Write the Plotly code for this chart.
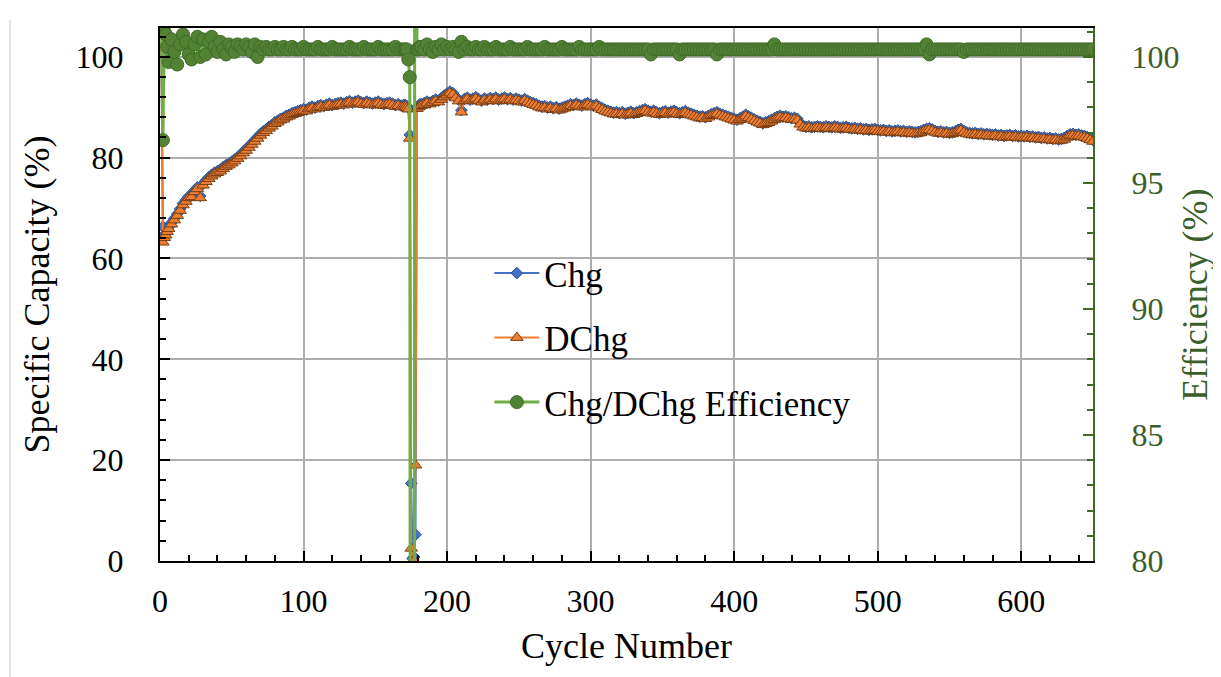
import plotly.graph_objects as go

# ---------------- DATA ----------------
# cycle numbers: 1..6, 8..170 step 2, 171..181, 182..650 step 2
cycles_a = [1, 2, 3, 4, 5, 6]
cycles_b = list(range(8, 171, 2))
cycles_c = list(range(171, 182))
cycles_d = list(range(182, 651, 2))

dchg_a = [101.8, 63.2, 64.1, 64.6, 65.3, 65.9]
chg_a = [100.4, 66.3, 64.5, 65.0, 65.6, 66.2]
eff_a = [101.5, 96.7, 101.0, 100.9, 100.4, 99.8]

dchg_b = [
    66.8, 67.6, 68.5, 69.5, 70.6, 71.3, 72.0, 72.2, 73.2, 73.8,
    72.0, 74.5, 75.2, 75.8, 76.3, 76.7, 77.0, 77.3, 77.8, 78.2,
    78.5, 78.9, 79.3, 79.8, 80.3, 80.9, 81.4, 82.0, 82.6, 83.2,
    83.8, 84.4, 84.9, 85.3, 85.8, 86.2, 86.7, 87.0, 87.4, 87.6,
    88.0, 88.2, 88.5, 88.7, 88.9, 89.1, 89.3, 89.2, 89.6, 89.8,
    89.6, 89.9, 90.1, 89.9, 90.2, 90.4, 90.1, 90.3, 90.5, 90.6,
    90.4, 90.7, 90.9, 90.6, 90.8, 91.0, 90.7, 90.5, 90.8, 90.6,
    90.4, 90.6, 90.8, 90.5, 90.3, 90.5, 90.6, 90.4, 90.1, 90.3,
    90.0, 90.2,
]
chg_b = [
    67.1, 67.9, 68.8, 69.8, 70.9, 71.6, 72.3, 72.5, 73.5, 74.1,
    72.4, 74.8, 75.5, 76.1, 76.6, 77.0, 77.3, 77.6, 78.1, 78.5,
    78.8, 79.2, 79.6, 80.1, 80.6, 81.2, 81.7, 82.3, 82.9, 83.5,
    84.1, 84.7, 85.2, 85.6, 86.1, 86.5, 87.0, 87.3, 87.7, 87.9,
    88.3, 88.5, 88.8, 89.0, 89.2, 89.4, 89.6, 89.5, 89.9, 90.1,
    89.9, 90.2, 90.4, 90.2, 90.5, 90.7, 90.4, 90.6, 90.8, 90.9,
    90.7, 91.0, 91.2, 90.9, 91.1, 91.3, 91.0, 90.8, 91.1, 90.9,
    90.7, 90.9, 91.1, 90.8, 90.6, 90.8, 90.9, 90.7, 90.4, 90.6,
    90.3, 90.5,
]
eff_b = [
    100.7, 100.2, 99.7, 100.5, 100.9, 100.6, 100.1, 99.9, 100.5, 100.8,
    100.0, 100.7, 100.1, 100.6, 100.8, 100.4, 100.2, 100.6, 100.3, 100.1,
    100.5, 100.4, 100.2, 100.5, 100.4, 100.3, 100.5, 100.4, 100.2, 100.5,
    100.0, 100.4, 100.3, 100.4, 100.3, 100.3, 100.4, 100.3, 100.3, 100.4,
    100.3, 100.3, 100.4, 100.3, 100.3, 100.3, 100.4, 100.3, 100.3, 100.3,
    100.3, 100.4, 100.3, 100.3, 100.3, 100.3, 100.4, 100.3, 100.3, 100.3,
    100.3, 100.3, 100.4, 100.3, 100.3, 100.3, 100.3, 100.4, 100.3, 100.3,
    100.3, 100.3, 100.4, 100.3, 100.3, 100.3, 100.3, 100.3, 100.4, 100.3,
    100.3, 100.3,
]

dchg_c = [90.1, 89.9, 89.6, 83.8, 2.5, 0.0, 0.0, 19.0, 89.7, 90.0, 90.2]
chg_c = [90.4, 90.2, 89.9, 84.5, 15.4, 0.5, 0.8, 5.2, 90.0, 90.3, 90.5]
eff_c = [100.3, 100.3, 99.9, 99.2, 20.0, 0.0, 0.0, 250.0, 100.3, 100.3, 100.4]

dchg_d = [
    90.3, 90.5, 90.8, 90.6, 90.9, 91.2, 91.0, 91.5, 92.0, 92.4,
    92.8, 92.5, 91.8, 91.2, 89.0, 91.3, 91.6, 91.2, 91.4, 91.7,
    91.3, 91.0, 91.4, 91.2, 91.5, 91.3, 91.6, 91.2, 91.4, 91.6,
    91.3, 91.5, 91.2, 91.4, 91.2, 91.0, 91.3, 91.0, 90.7, 90.5,
    90.3, 90.0, 89.8, 89.9, 89.6, 89.8, 89.5, 89.7, 89.4, 89.6,
    89.8, 90.0, 90.3, 90.1, 90.4, 90.2, 90.0, 90.3, 90.5, 90.2,
    90.0, 90.2, 89.8, 89.5, 89.2, 89.0, 88.8, 88.6, 88.7, 88.5,
    88.7, 88.4, 88.6, 88.8, 88.5, 88.7, 88.9, 89.1, 89.3, 89.0,
    88.8, 89.0, 88.7, 88.5, 88.7, 88.9, 88.6, 88.8, 89.0, 88.7,
    88.5, 88.7, 88.9, 88.6, 88.4, 88.2, 88.0, 87.8, 87.9, 87.7,
    88.0, 88.3, 88.5, 88.7, 88.4, 88.2, 88.0, 87.8, 87.6, 87.4,
    87.2, 87.5, 87.8, 88.2, 87.9, 87.6, 87.3, 87.0, 86.8, 86.5,
    86.7, 86.9, 87.2, 87.5, 87.8, 88.0, 87.8, 87.9, 87.7, 87.5,
    87.6, 87.4, 86.6, 86.0, 85.8, 85.9, 85.7, 85.8, 85.9, 85.8,
    85.7, 85.9, 85.8, 85.7, 85.9, 85.8, 85.6, 85.7, 85.8, 85.6,
    85.5, 85.6, 85.4, 85.5, 85.3, 85.4, 85.2, 85.3, 85.4, 85.2,
    85.1, 85.2, 85.0, 85.1, 84.9, 85.0, 85.1, 84.9, 85.0, 84.8,
    84.9, 84.8, 84.7, 84.8, 84.9, 85.2, 85.4, 85.5, 85.3, 85.0,
    84.8, 84.9, 84.7, 84.8, 84.6, 84.7, 84.9, 85.2, 85.4, 85.0,
    84.7, 84.6, 84.5, 84.6, 84.4, 84.5, 84.3, 84.4, 84.3, 84.2,
    84.3, 84.1, 84.2, 84.0, 84.1, 84.2, 84.0, 84.1, 83.9, 84.0,
    83.9, 84.0, 83.8, 83.9, 83.7, 83.8, 83.6, 83.7, 83.5, 83.6,
    83.4, 83.5, 83.3, 83.4, 83.6, 84.0, 84.3, 84.4, 84.2, 84.3,
    84.1, 84.0, 83.8, 83.5, 83.2,
]
chg_d = [
    90.6, 90.8, 91.1, 90.9, 91.2, 91.5, 91.3, 91.8, 92.3, 92.7,
    93.1, 92.8, 92.1, 91.5, 89.4, 91.6, 91.9, 91.5, 91.7, 92.0,
    91.6, 91.3, 91.7, 91.5, 91.8, 91.6, 91.9, 91.5, 91.7, 91.9,
    91.6, 91.8, 91.5, 91.7, 91.5, 91.3, 91.6, 91.3, 91.0, 90.8,
    90.6, 90.3, 90.1, 90.2, 89.9, 90.1, 89.8, 90.0, 89.7, 89.9,
    90.1, 90.3, 90.6, 90.4, 90.7, 90.5, 90.3, 90.6, 90.8, 90.5,
    90.3, 90.5, 90.1, 89.8, 89.5, 89.3, 89.1, 88.9, 89.0, 88.8,
    89.0, 88.7, 88.9, 89.1, 88.8, 89.0, 89.2, 89.4, 89.6, 89.3,
    89.1, 89.3, 89.0, 88.8, 89.0, 89.2, 88.9, 89.1, 89.3, 89.0,
    88.8, 89.0, 89.2, 88.9, 88.7, 88.5, 88.3, 88.1, 88.2, 88.0,
    88.3, 88.6, 88.8, 89.0, 88.7, 88.5, 88.3, 88.1, 87.9, 87.7,
    87.5, 87.8, 88.1, 88.5, 88.2, 87.9, 87.6, 87.3, 87.1, 86.8,
    87.0, 87.2, 87.5, 87.8, 88.1, 88.3, 88.1, 88.2, 88.0, 87.8,
    87.9, 87.7, 86.9, 86.3, 86.1, 86.2, 86.0, 86.1, 86.2, 86.1,
    86.0, 86.2, 86.1, 86.0, 86.2, 86.1, 85.9, 86.0, 86.1, 85.9,
    85.8, 85.9, 85.7, 85.8, 85.6, 85.7, 85.5, 85.6, 85.7, 85.5,
    85.4, 85.5, 85.3, 85.4, 85.2, 85.3, 85.4, 85.2, 85.3, 85.1,
    85.2, 85.1, 85.0, 85.1, 85.2, 85.5, 85.7, 85.8, 85.6, 85.3,
    85.1, 85.2, 85.0, 85.1, 84.9, 85.0, 85.2, 85.5, 85.7, 85.3,
    85.0, 84.9, 84.8, 84.9, 84.7, 84.8, 84.6, 84.7, 84.6, 84.5,
    84.6, 84.4, 84.5, 84.3, 84.4, 84.5, 84.3, 84.4, 84.2, 84.3,
    84.2, 84.3, 84.1, 84.2, 84.0, 84.1, 83.9, 84.0, 83.8, 83.9,
    83.7, 83.8, 83.6, 83.7, 83.9, 84.3, 84.6, 84.7, 84.5, 84.6,
    84.4, 84.3, 84.1, 83.8, 83.5,
]
eff_d = [
    100.4, 100.3, 100.5, 100.3, 100.2, 100.4, 100.3, 100.5, 100.3, 100.4,
    100.3, 100.4, 100.3, 100.2, 100.6, 100.3, 100.4, 100.3, 100.3, 100.4,
    100.3, 100.3, 100.4, 100.3, 100.3, 100.3, 100.4, 100.3, 100.3, 100.3,
    100.3, 100.4, 100.3, 100.3, 100.3, 100.3, 100.3, 100.4, 100.3, 100.3,
    100.3, 100.3, 100.3, 100.4, 100.3, 100.3, 100.3, 100.3, 100.3, 100.4,
    100.3, 100.3, 100.3, 100.3, 100.3, 100.4, 100.3, 100.3, 100.3, 100.3,
    100.3, 100.3, 100.4, 100.3, 100.3, 100.3, 100.3, 100.3, 100.3, 100.3,
    100.3, 100.3, 100.3, 100.3, 100.3, 100.3, 100.3, 100.3, 100.3, 100.3,
    100.1, 100.3, 100.3, 100.3, 100.3, 100.3, 100.3, 100.3, 100.3, 100.3,
    100.1, 100.3, 100.3, 100.3, 100.3, 100.3, 100.3, 100.3, 100.3, 100.3,
    100.3, 100.3, 100.3, 100.1, 100.3, 100.3, 100.3, 100.3, 100.3, 100.3,
    100.3, 100.3, 100.3, 100.3, 100.3, 100.3, 100.3, 100.3, 100.3, 100.3,
    100.3, 100.3, 100.3, 100.5, 100.3, 100.3, 100.3, 100.3, 100.3, 100.3,
    100.3, 100.3, 100.3, 100.3, 100.3, 100.3, 100.3, 100.3, 100.3, 100.3,
    100.3, 100.3, 100.3, 100.3, 100.3, 100.3, 100.3, 100.3, 100.3, 100.3,
    100.3, 100.3, 100.3, 100.3, 100.3, 100.3, 100.3, 100.3, 100.3, 100.3,
    100.3, 100.3, 100.3, 100.3, 100.3, 100.3, 100.3, 100.3, 100.3, 100.3,
    100.3, 100.3, 100.3, 100.3, 100.3, 100.3, 100.5, 100.1, 100.3, 100.3,
    100.3, 100.3, 100.3, 100.3, 100.3, 100.3, 100.3, 100.3, 100.3, 100.2,
    100.3, 100.3, 100.3, 100.3, 100.3, 100.3, 100.3, 100.3, 100.3, 100.3,
    100.3, 100.3, 100.3, 100.3, 100.3, 100.3, 100.3, 100.3, 100.3, 100.3,
    100.3, 100.3, 100.3, 100.3, 100.3, 100.3, 100.3, 100.3, 100.3, 100.3,
    100.3, 100.3, 100.3, 100.3, 100.3, 100.3, 100.3, 100.3, 100.3, 100.3,
    100.3, 100.3, 100.3, 100.3, 100.3,
]

cycles = cycles_a + cycles_b + cycles_c + cycles_d
chg = chg_a + chg_b + chg_c + chg_d
dchg = dchg_a + dchg_b + dchg_c + dchg_d
eff = eff_a + eff_b + eff_c + eff_d
assert len(cycles) == len(chg) == len(dchg) == len(eff), (len(cycles), len(chg), len(dchg), len(eff))

x_ticks = [0, 100, 200, 300, 400, 500, 600]
left_ticks = [0, 20, 40, 60, 80, 100]
right_ticks = [80, 85, 90, 95, 100]

# ---------------- STYLE ----------------
FONT = "Liberation Serif, Times New Roman, serif"
GREEN_TXT = "#3B5E2A"
GRID = "#ADADAD"

fig = go.Figure()
fig.add_trace(go.Scatter(
    x=cycles, y=chg, name="Chg", mode="lines+markers", legendgroup="a",
    line=dict(color="#4472C4", width=2),
    marker=dict(symbol="diamond", size=9, color="#4472C4",
                line=dict(color="#2F528F", width=1)),
))
fig.add_trace(go.Scatter(
    x=cycles, y=dchg, name="DChg", mode="lines+markers", legendgroup="b",
    line=dict(color="#ED7D31", width=2),
    marker=dict(symbol="triangle-up", size=11, color="#ED7D31",
                line=dict(color="#7A3E14", width=1)),
))
fig.add_trace(go.Scatter(
    x=cycles, y=eff, name="Chg/DChg Efficiency", mode="lines+markers",
    legendgroup="c", yaxis="y2",
    line=dict(color="#70AD47", width=3),
    marker=dict(symbol="circle", size=13, color="#548235",
                line=dict(color="#3E6B27", width=1)),
))

fig.update_layout(
    width=1221, height=677,
    margin=dict(l=152, r=136, t=20, b=124, autoexpand=False),
    paper_bgcolor="white", plot_bgcolor="white",
    font=dict(family=FONT, size=32, color="black"),
    showlegend=True,
    legend=dict(x=0.353, y=0.595, xanchor="left", yanchor="top",
                bgcolor="rgba(0,0,0,0)", font=dict(family=FONT, size=35),
                itemwidth=45, tracegroupgap=16),
    xaxis=dict(
        range=[0, 650], tickvals=x_ticks, showgrid=True, gridcolor=GRID,
        gridwidth=2, zeroline=False, showline=True, linecolor="black",
        linewidth=2, mirror=True, ticks="inside", ticklen=10, tickwidth=2,
        tickcolor="black", ticklabelstandoff=11, automargin=False,
        minor=dict(dtick=20, tick0=0, ticks="inside", ticklen=6,
                   tickwidth=2, tickcolor="black", showgrid=False),
        title=dict(text="Cycle Number", standoff=14,
                   font=dict(family=FONT, size=36)),
        tickfont=dict(family=FONT, size=32),
    ),
    yaxis=dict(
        range=[0, 105.7], tickvals=left_ticks, showgrid=True, gridcolor=GRID,
        gridwidth=2, zeroline=False, showline=True, linecolor="black",
        linewidth=2, ticks="inside", ticklen=10, tickwidth=2,
        tickcolor="black", ticklabelstandoff=28, automargin=False,
        minor=dict(dtick=4, tick0=0, ticks="inside", ticklen=6,
                   tickwidth=2, tickcolor="black", showgrid=False),
        title=dict(text="Specific Capacity (%)", standoff=15,
                   font=dict(family=FONT, size=36)),
        tickfont=dict(family=FONT, size=32),
    ),
    yaxis2=dict(
        overlaying="y", side="right", range=[80, 101.15], tickvals=right_ticks,
        showgrid=False, zeroline=False, showline=True, linecolor="#3F6A2A",
        linewidth=2, ticks="inside", ticklen=10, tickwidth=2,
        tickcolor="#3F6A2A", ticklabelstandoff=30, automargin=False,
        minor=dict(dtick=1, tick0=80, ticks="inside", ticklen=6,
                   tickwidth=2, tickcolor="#3F6A2A", showgrid=False),
        title=dict(text="Efficiency (%)", standoff=3,
                   font=dict(family=FONT, size=36, color=GREEN_TXT)),
        tickfont=dict(family=FONT, size=32, color=GREEN_TXT),
    ),
    shapes=[dict(type="line", xref="paper", yref="paper",
                 x0=-0.1608, x1=-0.1608, y0=-0.23, y1=1.015,
                 line=dict(color="#E4E4E4", width=2))],
)

fig.write_html("out.html")
